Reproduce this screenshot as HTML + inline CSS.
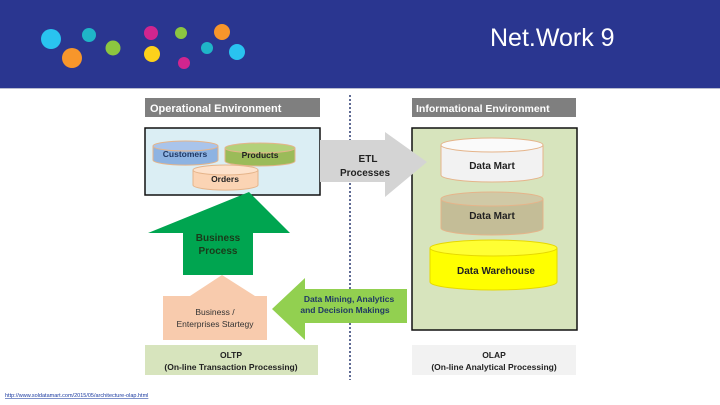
<!DOCTYPE html>
<html><head><style>
body{margin:0;width:720px;height:405px;background:#fff;position:relative;overflow:hidden;font-family:"Liberation Sans",sans-serif}
.a{position:absolute}
</style></head><body>
<div class="a" style="left:0;top:0;width:720px;height:88px;background:#2a3690"></div>
<div class="a" style="left:0;top:88px;width:720px;height:1px;background:#b8bcd0"></div>
<div class="a" style="left:490px;top:24px;color:#fff;font-size:25px">Net.Work 9</div>
<svg class="a" style="left:0;top:0" width="720" height="405">
<g>
<circle cx="51" cy="39" r="10" fill="#29c3f0"/><circle cx="72" cy="58" r="10" fill="#f7962b"/>
<circle cx="89" cy="35" r="7" fill="#1fb5c8"/><circle cx="113" cy="48" r="7.5" fill="#8cc640"/>
<circle cx="151" cy="33" r="7" fill="#d1258f"/><circle cx="152" cy="54" r="8" fill="#fdd11b"/>
<circle cx="181" cy="33" r="6" fill="#8cc640"/><circle cx="184" cy="63" r="6" fill="#d1258f"/>
<circle cx="207" cy="48" r="6" fill="#1fb5c8"/><circle cx="222" cy="32" r="8" fill="#f7962b"/>
<circle cx="237" cy="52" r="8" fill="#29c3f0"/>
</g>
<line x1="350" y1="95" x2="350" y2="380" stroke="#2a3a70" stroke-width="1.5" stroke-dasharray="2,2"/>
<rect x="145" y="98" width="175" height="19" fill="#7f7f7f"/>
<text x="150" y="112" fill="#fff" font-size="11" font-weight="bold">Operational Environment</text>
<rect x="412" y="98" width="164" height="19" fill="#7f7f7f"/>
<text x="416" y="112" fill="#fff" font-size="10.5" font-weight="bold">Informational Environment</text>
<rect x="145" y="128" width="175" height="67" fill="#dbeef4" stroke="#111" stroke-width="1.5"/>
<rect x="412" y="128" width="165" height="202" fill="#d7e4bd" stroke="#111" stroke-width="1.5"/>
<polygon points="320,140 385,140 385,132 427,162 385,197 385,182 320,182" fill="#d4d4d4"/>
<text x="368" y="162" font-size="10" font-weight="bold" text-anchor="middle" fill="#222">ETL</text>
<text x="365" y="176" font-size="10" font-weight="bold" text-anchor="middle" fill="#222">Processes</text>
<g stroke="#e5b48a" stroke-width="1">
<path d="M153,146 v14 a32,5 0 0 0 65,0 v-14" fill="#8db3e2"/><ellipse cx="185.5" cy="146" rx="32.5" ry="5" fill="#a9c4eb"/>
<path d="M225,148 v13 a35,5 0 0 0 70,0 v-13" fill="#9bbb59"/><ellipse cx="260" cy="148" rx="35" ry="5" fill="#b3d17a"/>
<path d="M193,170 v15 a32,5 0 0 0 65,0 v-15" fill="#fbd4b4"/><ellipse cx="225.5" cy="170" rx="32.5" ry="5" fill="#fde2cc"/>
<path d="M441,145 v30 a51,7 0 0 0 102,0 v-30" fill="#f2f2f2"/><ellipse cx="492" cy="145" rx="51" ry="7" fill="#fafafa"/>
<path d="M441,199 v29 a51,7 0 0 0 102,0 v-29" fill="#c4bd97"/><ellipse cx="492" cy="199" rx="51" ry="7" fill="#d0c9a6"/>
</g>
<path d="M430,248 v34 a63.5,8 0 0 0 127,0 v-34" fill="#ffff00" stroke="#e6d800"/><ellipse cx="493.5" cy="248" rx="63.5" ry="8" fill="#ffff33" stroke="#e6d800"/>
<g font-size="8.5" font-weight="bold" fill="#222" text-anchor="middle">
<text x="185" y="157" fill="#1f3864">Customers</text><text x="260" y="158">Products</text><text x="225" y="182">Orders</text>
</g>
<g font-size="10" font-weight="bold" fill="#222" text-anchor="middle">
<text x="492" y="169">Data Mart</text><text x="492" y="219">Data Mart</text><text x="496" y="274">Data Warehouse</text>
</g>
<polygon points="249,192 290,233 253,233 253,275 183,275 183,233 148,233" fill="#00a550"/>
<text x="218" y="241" font-size="10" font-weight="bold" text-anchor="middle" fill="#1a3a1a">Business</text>
<text x="218" y="254" font-size="10" font-weight="bold" text-anchor="middle" fill="#1a3a1a">Process</text>
<polygon points="222,275 255,296 245,296 245,300 200,300 200,296 190,296" fill="#f8cbad"/>
<rect x="163" y="296" width="104" height="44" fill="#f8cbad"/>
<text x="215" y="315" font-size="8.5" text-anchor="middle" fill="#333">Business /</text>
<text x="215" y="327" font-size="8.5" text-anchor="middle" fill="#333">Enterprises Startegy</text>
<polygon points="272,309 305,278 305,289 407,289 407,323 305,323 305,340" fill="#92d050"/>
<text x="349" y="302" font-size="8.5" font-weight="bold" text-anchor="middle" fill="#1f3864">Data Mining, Analytics</text>
<text x="345" y="313" font-size="8.5" font-weight="bold" text-anchor="middle" fill="#1f3864">and Decision Makings</text>
<rect x="145" y="345" width="173" height="30" fill="#d7e4bd"/>
<text x="231" y="358" font-size="8.5" font-weight="bold" text-anchor="middle" fill="#222">OLTP</text>
<text x="231" y="370" font-size="8.5" font-weight="bold" text-anchor="middle" fill="#222">(On-line Transaction Processing)</text>
<rect x="412" y="345" width="164" height="30" fill="#f2f2f2"/>
<text x="494" y="358" font-size="8.5" font-weight="bold" text-anchor="middle" fill="#222">OLAP</text>
<text x="494" y="370" font-size="8.5" font-weight="bold" text-anchor="middle" fill="#222">(On-line Analytical Processing)</text>
<text x="5" y="397" font-size="5.5" fill="#1a3aa0" text-decoration="underline">http://www.soldatamart.com/2015/05/architecture-olap.html</text>
</svg>
</body></html>
